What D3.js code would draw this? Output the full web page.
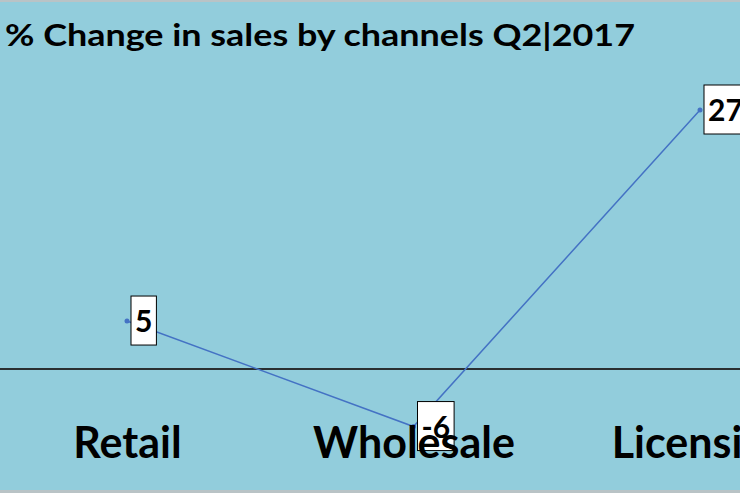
<!DOCTYPE html>
<html>
<head>
<meta charset="utf-8">
<script src="https://cdn.jsdelivr.net/npm/d3@7"></script>
<style>
  html, body { margin: 0; padding: 0; background: #92CDDC; overflow: hidden; }
  svg { display: block; }
</style>
</head>
<body>
<svg id="chart" width="740" height="493"></svg>
<script>
const chartTitle = "% Change in sales by channels Q2|2017";
const categories = ["Retail", "Wholesale", "Licensing"];
const values = [5, -6, 27];
const data = categories.map((c, i) => ({ cat: c, val: values[i] }));

const W = 740, H = 493;
const svg = d3.select("#chart");
const font = "Lato, 'Open Sans', sans-serif";

svg.append("rect").attr("width", W).attr("height", H).attr("fill", "#92CDDC");
svg.append("rect").attr("x", 0).attr("y", 0).attr("width", W).attr("height", 2).attr("fill", "#b9c3c6");
svg.append("rect").attr("x", 0).attr("y", 490).attr("width", W).attr("height", 3).attr("fill", "#b9c3c6");

const x = d3.scalePoint().domain(categories).range([127, 700]);
const y = d3.scaleLinear().domain([0, 27]).range([369, 110]);

// title
svg.append("text")
  .attr("x", 5).attr("y", 46)
  .attr("font-family", font).attr("font-weight", 700).attr("font-size", 31)
  .attr("fill", "#000")
  .attr("textLength", 630).attr("lengthAdjust", "spacingAndGlyphs")
  .text(chartTitle);

// zero line
svg.append("line")
  .attr("x1", 0).attr("x2", W)
  .attr("y1", y(0)).attr("y2", y(0))
  .attr("stroke", "#2a2f31").attr("stroke-width", 2.2);

// series line
const line = d3.line().x(d => x(d.cat)).y(d => y(d.val));
svg.append("path").datum(data)
  .attr("d", line)
  .attr("fill", "none")
  .attr("stroke", "#4472C4")
  .attr("stroke-width", 1.5);

svg.selectAll("circle.pt").data(data).enter().append("circle")
  .attr("class", "pt")
  .attr("cx", d => x(d.cat)).attr("cy", d => y(d.val))
  .attr("r", 2.5).attr("fill", "#4472C4");

// data labels
const lab = svg.selectAll("g.lab").data(data).enter().append("g").attr("class", "lab")
  .attr("transform", d => `translate(${x(d.cat) + 4},${y(d.val)})`);
lab.append("rect")
  .attr("y", -25).attr("height", 49)
  .attr("fill", "#fff").attr("stroke", "#000").attr("stroke-width", 1);
const texts = lab.append("text")
  .attr("x", 4).attr("y", 11)
  .attr("font-family", font).attr("font-weight", 700).attr("font-size", 30)
  .attr("fill", "#000")
  .text(d => String(d.val));
texts.each(function() {
  const w = this.getComputedTextLength();
  d3.select(this.parentNode).select("rect").attr("width", w + 8);
});

// category axis labels
const axis = d3.axisBottom(x).tickSize(0).tickPadding(0);
const ax = svg.append("g").call(axis);
ax.select(".domain").remove();
ax.selectAll("text")
  .attr("y", 458).attr("dy", null)
  .attr("font-family", font).attr("font-weight", 700).attr("font-size", 43)
  .attr("fill", "#000");
</script>
</body>
</html>
